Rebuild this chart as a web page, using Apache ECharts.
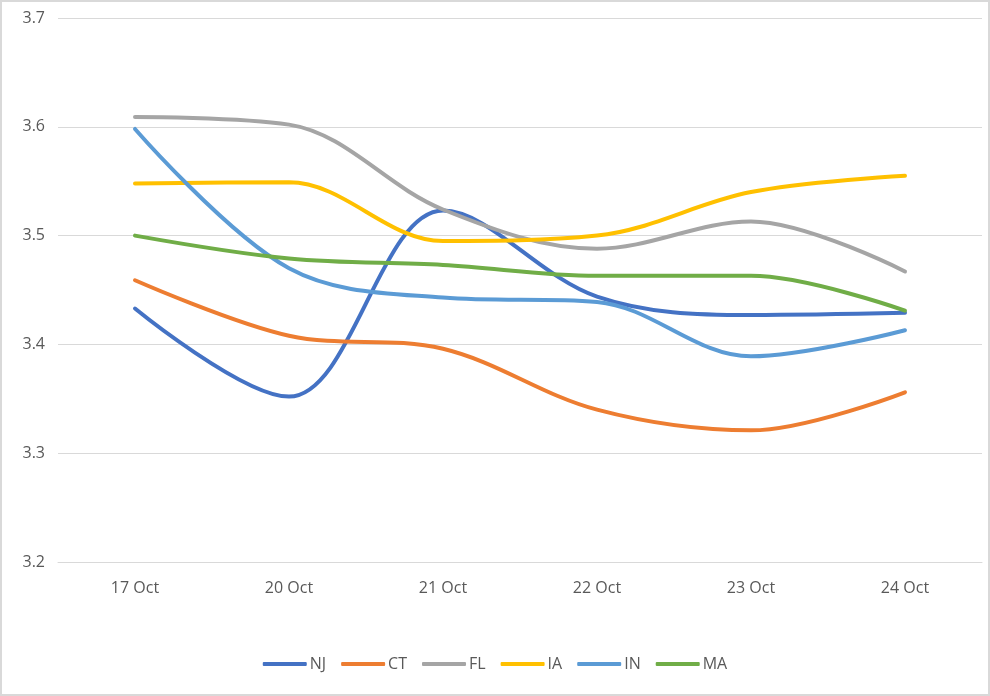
<!DOCTYPE html>
<html>
<head>
<meta charset="utf-8">
<script src="https://cdn.jsdelivr.net/npm/echarts@6/dist/echarts.min.js"></script>
<style>
  html, body { margin: 0; padding: 0; background: #fff; }
  #chart { width: 990px; height: 696px; box-sizing: border-box; border: 2px solid #d9d9d9; }
</style>
</head>
<body>
<div id="chart"></div>
<script>
const categories = ['17 Oct', '20 Oct', '21 Oct', '22 Oct', '23 Oct', '24 Oct'];
const NJ = [3.433, 3.352, 3.523, 3.444, 3.427, 3.429];
const CT = [3.459, 3.408, 3.396, 3.340, 3.321, 3.356];
const FL = [3.609, 3.602, 3.524, 3.488, 3.513, 3.467];
const IA = [3.548, 3.549, 3.495, 3.500, 3.540, 3.555];
const IN = [3.598, 3.470, 3.443, 3.439, 3.389, 3.413];
const MA = [3.500, 3.479, 3.473, 3.463, 3.463, 3.431];

const seriesDefs = [
  ['NJ', NJ, '#4472C4'],
  ['CT', CT, '#ED7D31'],
  ['FL', FL, '#A5A5A5'],
  ['IA', IA, '#FFC000'],
  ['IN', IN, '#5B9BD5'],
  ['MA', MA, '#70AD47']
];

const chart = echarts.init(document.getElementById('chart'), null, { renderer: 'canvas' });
const font = 'Open Sans';
chart.setOption({
  animation: false,
  color: seriesDefs.map(s => s[2]),
  grid: { left: 56, right: 6, top: 16, bottom: 132, containLabel: false },
  xAxis: {
    type: 'category',
    data: categories,
    boundaryGap: true,
    axisLine: { show: true, lineStyle: { color: '#d9d9d9', width: 1 } },
    axisTick: { show: false },
    axisLabel: { color: '#595959', fontSize: 16, fontFamily: font, margin: 18 },
    splitLine: { show: false }
  },
  yAxis: {
    type: 'value',
    min: 3.2,
    max: 3.7,
    interval: 0.1,
    axisLine: { show: false },
    axisTick: { show: false },
    axisLabel: { color: '#595959', fontSize: 16, fontFamily: font, margin: 13,
      formatter: v => v.toFixed(1) },
    splitLine: { lineStyle: { color: '#d9d9d9', width: 1 } }
  },
  legend: {
    bottom: 17,
    left: 'center',
    icon: 'roundRect',
    itemWidth: 44,
    itemHeight: 4,
    itemGap: 15,
    textStyle: { color: '#595959', fontSize: 16, fontFamily: font, padding: [0, 0, 0, -2] },
    data: seriesDefs.map(s => s[0])
  },
  series: seriesDefs.map(([name, data, color]) => ({
    name,
    type: 'line',
    data,
    smooth: 0.35,
    symbol: 'none',
    lineStyle: { color, width: 4, cap: 'round' },
    itemStyle: { color }
  }))
});
</script>
</body>
</html>
